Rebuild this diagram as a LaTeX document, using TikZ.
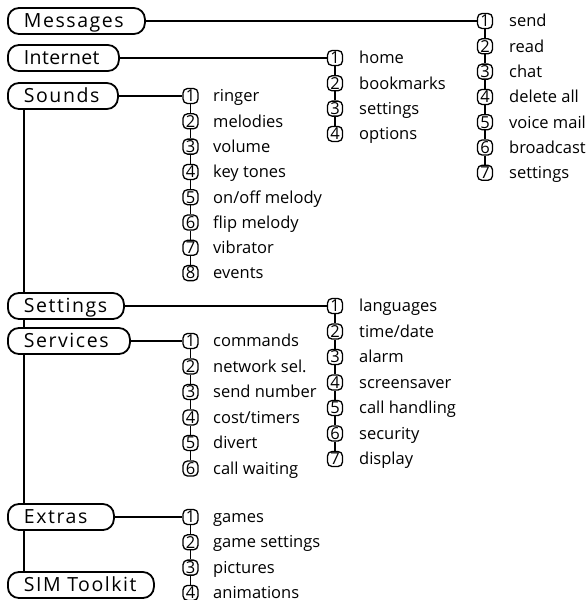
\documentclass[tikz,border=0pt]{standalone}
\usepackage{fontspec}
\setmainfont{Open Sans}
\newfontfamily\mainlbl[LetterSpace=8]{Open Sans}
\newfontfamily\mainlblnarrow[LetterSpace=2]{Open Sans}
\begin{document}
\begin{tikzpicture}[x=1pt,y=-1pt,
 mainbox/.style={draw, line width=1.8pt, rounded corners=11pt, minimum height=26pt, inner xsep=16pt, inner ysep=0pt, anchor=west, align=left, text height=13.9pt, text depth=0pt, font=\mainlbl\fontsize{19.5}{19.5}\selectfont},
 numbox/.style={draw, line width=1.3pt, rounded corners=4.5pt, minimum width=15pt, minimum height=15pt, inner sep=0pt, font=\fontsize{16.5}{16.5}\selectfont},
 itemlbl/.style={anchor=base west, inner sep=0pt, font=\fontsize{16.5}{16.5}\selectfont},
 link/.style={line width=1.8pt},
 tick/.style={line width=1.3pt}]
\useasboundingbox (0,0) rectangle (588,600);
% main menu
\node[mainbox, text width=105pt] (msg) at (7,21) {Messages};
\node[mainbox, text width=79pt, font=\mainlblnarrow\fontsize{19.5}{19.5}\selectfont] (inet) at (7,58) {Internet};
\node[mainbox, text width=78pt] (snd) at (7,96) {Sounds};
\node[mainbox, text width=84pt] (set) at (7,306) {Settings};
\node[mainbox, text width=90pt] (srv) at (7,341) {Services};
\node[mainbox, text width=74pt] (ext) at (7,517) {Extras};
\node[mainbox, text width=114pt] (sim) at (7,585) {SIM Toolkit};
% trunk
\draw[link] (24,0 |- snd.south) -- (24,0 |- set.north);
\draw[link] (24,0 |- set.south) -- (24,0 |- srv.north);
\draw[link] (24,0 |- srv.south) -- (24,0 |- ext.north);
\draw[link] (24,0 |- ext.south) -- (24,0 |- sim.north);
% groups
\foreach \t [count=\i] in {send,read,chat,delete all,voice mail,broadcast,settings}{
  \node[numbox] (ms\i) at (485,{21+(\i-1)*25.3}) {\i};
  \node[itemlbl] (mst\i) at (509,{21+(\i-1)*25.3+5.8}) {\t};}
\foreach \i [remember=\i as \j (initially 1)] in {2,...,7}{\draw[tick] (ms\j.south) -- (ms\i.north);}
\draw[link] (msg.east) -- (ms1.west);
\foreach \t [count=\i] in {home,bookmarks,settings,options}{
  \node[numbox] (in\i) at (335,{58+(\i-1)*25.3}) {\i};
  \node[itemlbl] (int\i) at (359,{58+(\i-1)*25.3+5.8}) {\t};}
\foreach \i [remember=\i as \j (initially 1)] in {2,...,4}{\draw[tick] (in\j.south) -- (in\i.north);}
\draw[link] (inet.east) -- (in1.west);
\foreach \t [count=\i] in {ringer,melodies,volume,key tones,on/off melody,flip melody,vibrator,events}{
  \node[numbox] (so\i) at (190.5,{96+(\i-1)*25.3}) {\i};
  \node[itemlbl] (sot\i) at (213,{96+(\i-1)*25.3+5.8}) {\t};}
\foreach \i [remember=\i as \j (initially 1)] in {2,...,8}{\draw[tick] (so\j.south) -- (so\i.north);}
\draw[link] (snd.east) -- (so1.west);
\foreach \t [count=\i] in {languages,time/date,alarm,screensaver,call handling,security,display}{
  \node[numbox] (se\i) at (335,{306+(\i-1)*25.5}) {\i};
  \node[itemlbl] (set\i) at (359,{306+(\i-1)*25.5+5.8}) {\t};}
\foreach \i [remember=\i as \j (initially 1)] in {2,...,7}{\draw[tick] (se\j.south) -- (se\i.north);}
\draw[link] (set.east) -- (se1.west);
\foreach \t [count=\i] in {commands,network sel.,send number,cost/timers,divert,call waiting}{
  \node[numbox] (sv\i) at (190.5,{341+(\i-1)*25.5}) {\i};
  \node[itemlbl] (svt\i) at (213,{341+(\i-1)*25.5+5.8}) {\t};}
\foreach \i [remember=\i as \j (initially 1)] in {2,...,6}{\draw[tick] (sv\j.south) -- (sv\i.north);}
\draw[link] (srv.east) -- (sv1.west);
\foreach \t [count=\i] in {games,game settings,pictures,animations}{
  \node[numbox] (ex\i) at (190.5,{517+(\i-1)*25.3}) {\i};
  \node[itemlbl] (ext\i) at (213,{517+(\i-1)*25.3+5.5}) {\t};}
\foreach \i [remember=\i as \j (initially 1)] in {2,...,4}{\draw[tick] (ex\j.south) -- (ex\i.north);}
\draw[link] (ext.east) -- (ex1.west);
\end{tikzpicture}
\end{document}
